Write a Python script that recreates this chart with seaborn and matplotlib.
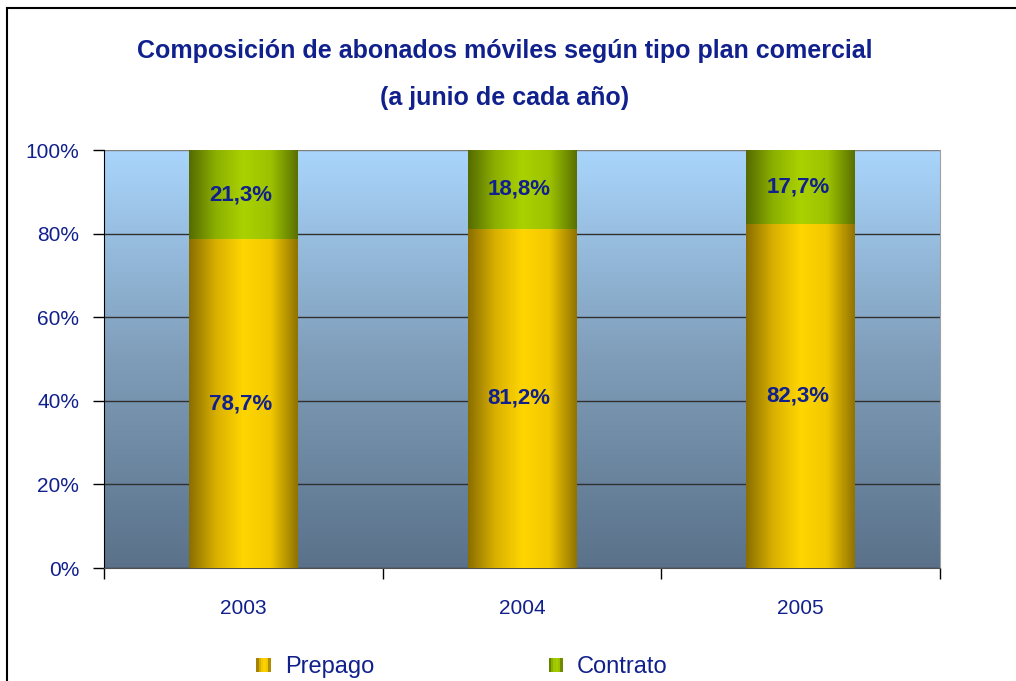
import numpy as np
import pandas as pd
import seaborn as sns
import matplotlib.pyplot as plt
from matplotlib.colors import LinearSegmentedColormap
from matplotlib.patches import Rectangle, Patch
from matplotlib.legend_handler import HandlerBase

years = ['2003', '2004', '2005']
prepago = [78.7, 81.2, 82.3]
contrato = [21.3, 18.8, 17.7]
labels_prepago = ['78,7%', '81,2%', '82,3%']
labels_contrato = ['21,3%', '18,8%', '17,7%']

navy = '#10208C'
cmap_prepago = LinearSegmentedColormap.from_list('prep', ['#8A6E00', '#D9B000', '#FFD600', '#F2C800', '#8F7200'])
cmap_contrato = LinearSegmentedColormap.from_list('cont', ['#556B00', '#8CB000', '#AAD200', '#9CC200', '#5A7000'])
cmap_bg = LinearSegmentedColormap.from_list('bg', ['#5A7189', '#7F9DB9', '#A9D5FC'])

sns.set_style("white")
plt.rcParams['font.family'] = ['Liberation Sans', 'DejaVu Sans']

df = pd.DataFrame({"Year": years, "Prepago": prepago, "Contrato": contrato})
df["Total"] = df["Prepago"] + df["Contrato"]

fig = plt.figure(figsize=(10.16, 6.81), dpi=100)
ax = fig.add_axes([104/1016, 1-568/681, 836/1016, 418/681])

# stacked bars: total first, prepago drawn over it
sns.barplot(x="Year", y="Total", data=df, color='#A0C800', width=0.39, ax=ax, zorder=2)
n = len(ax.patches)
sns.barplot(x="Year", y="Prepago", data=df, color='#FFD600', width=0.39, ax=ax, zorder=3)

grad = np.linspace(0, 1, 256).reshape(1, -1)
for i, patch in enumerate(ax.patches):
    cmap = cmap_contrato if i < n else cmap_prepago
    x0, y0 = patch.get_x(), patch.get_y()
    w, h = patch.get_width(), patch.get_height()
    im = ax.imshow(grad, cmap=cmap, extent=[x0, x0 + w, y0, y0 + h], aspect='auto',
                   zorder=patch.get_zorder() + 0.1, interpolation='bilinear')
    im.set_clip_path(patch)
    patch.set_edgecolor('none')

# background gradient
bg = np.linspace(0, 1, 256).reshape(-1, 1)
ax.imshow(bg, cmap=cmap_bg, extent=[-0.5, 2.5, 0, 100], origin='lower', aspect='auto', zorder=0)

for i in range(len(years)):
    ax.text(i - 0.01, prepago[i] / 2, labels_prepago[i], ha='center', va='center',
            fontsize=16, fontweight='bold', color=navy, zorder=5)
    ax.text(i - 0.01, prepago[i] + contrato[i] / 2, labels_contrato[i], ha='center', va='center',
            fontsize=16, fontweight='bold', color=navy, zorder=5)

ax.set_xlim(-0.5, 2.5)
ax.set_ylim(0, 100)
ax.set_yticks([0, 20, 40, 60, 80, 100])
ax.set_yticklabels(['0%', '20%', '40%', '60%', '80%', '100%'])
ax.set_xlabel('')
ax.set_ylabel('')
ax.set_xticks([-0.5, 0.5, 1.5, 2.5], minor=True)
ax.tick_params(axis='x', which='major', bottom=True, length=0, pad=22, labelsize=15, labelcolor=navy)
ax.tick_params(axis='x', which='minor', bottom=True, length=8, width=1, color='black', direction='out')
ax.tick_params(axis='y', left=True, length=8, width=1, color='black', direction='out', pad=10,
               labelsize=15, labelcolor=navy)
ax.yaxis.grid(True, color='#303030', linewidth=1)
ax.set_axisbelow(True)
for g in ax.get_ygridlines():
    g.set_zorder(1)
ax.get_ygridlines()[-1].set_color('#808080')
ax.spines['top'].set_visible(False)
ax.spines['right'].set_color('#A0A0A0')
ax.spines['left'].set_color('black')
ax.spines['bottom'].set_color('#505050')


class GradHandler(HandlerBase):
    def __init__(self, cmap):
        super().__init__()
        self.cmap = cmap

    def create_artists(self, legend, orig_handle, xdescent, ydescent, width, height, fontsize, trans):
        arts = []
        k = 6
        side = width
        y0 = -ydescent + (height - side) / 2
        for j in range(k):
            r = Rectangle((-xdescent + j * side / k, y0), side / k, side,
                          facecolor=self.cmap((j + 0.5) / k), edgecolor='none', transform=trans)
            arts.append(r)
        return arts


h1 = Patch(label='Prepago')
h2 = Patch(label='Contrato')
fig.legend(handles=[h1, h2], labels=['Prepago', 'Contrato'],
           handler_map={h1: GradHandler(cmap_prepago), h2: GradHandler(cmap_contrato)},
           loc='center', bbox_to_anchor=(462/1016, 1-667/681), ncol=2, frameon=False,
           fontsize=17, labelcolor=navy, handlelength=0.6, handletextpad=0.6,
           columnspacing=7.4, borderpad=0)

fig.text(505/1016, 1-51/681, 'Composición de abonados móviles según tipo plan comercial',
         ha='center', va='center', fontsize=18, fontweight='bold', color=navy)
fig.text(505/1016, 1-98/681, '(a junio de cada año)',
         ha='center', va='center', fontsize=18, fontweight='bold', color=navy)

fig.patches.append(Rectangle((7/1016, -0.1), 1.2, 1.1 - 8/681, transform=fig.transFigure,
                             fill=False, edgecolor='black', linewidth=1.5))

fig.savefig('out.png', dpi=100)
